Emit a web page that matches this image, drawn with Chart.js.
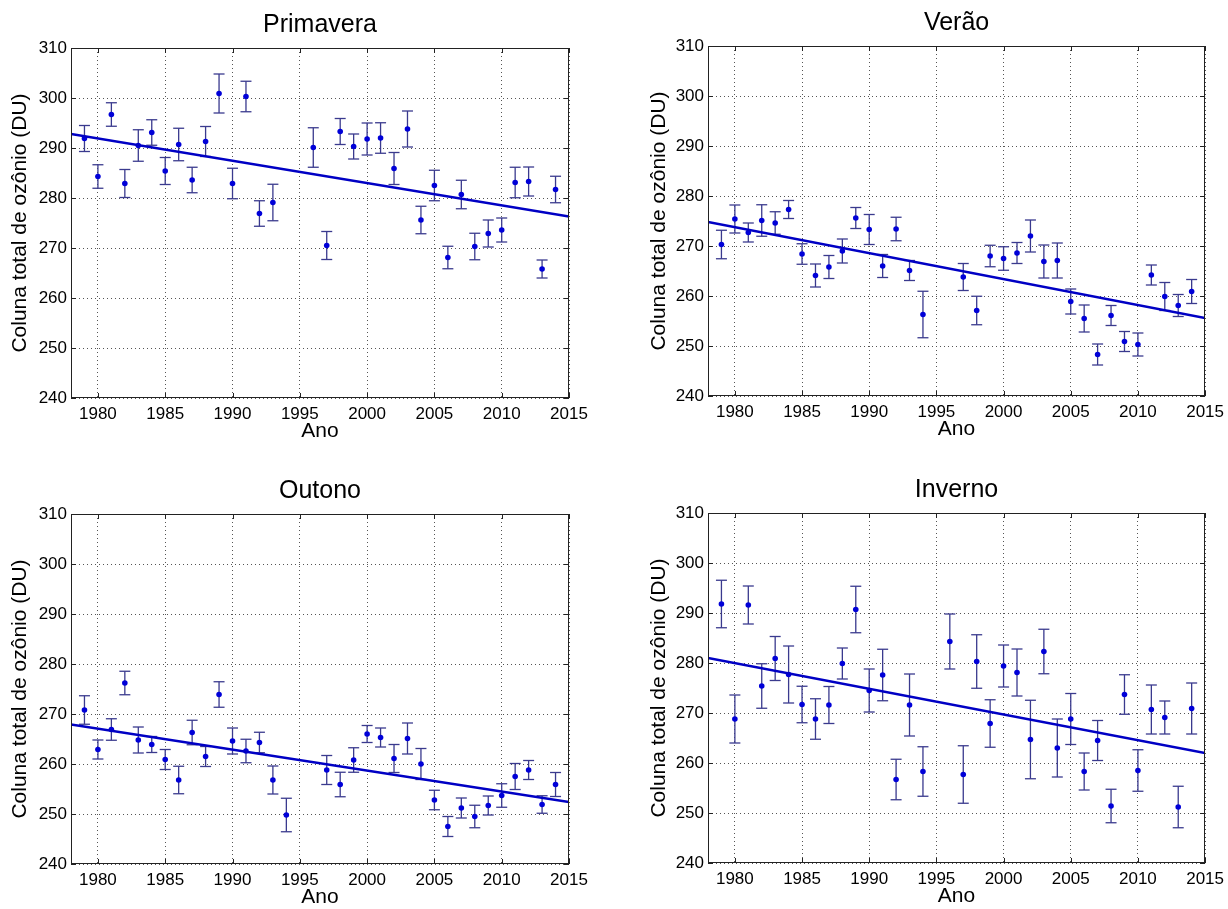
<!DOCTYPE html>
<html lang="pt">
<head>
<meta charset="utf-8">
<title>Coluna total de ozônio por estação</title>
<script src="https://cdn.jsdelivr.net/npm/chart.js@4.4.1/dist/chart.umd.min.js"></script>
<style>
  html, body { margin: 0; padding: 0; background: #fff; }
  #quadro { position: relative; width: 1228px; height: 909px; overflow: hidden; background: #fff; }
  #quadro canvas { position: absolute; }
</style>
</head>
<body>
<div id="quadro">
  <canvas id="gPrimavera" width="614" height="454" style="left:0px;top:0px"></canvas>
  <canvas id="gVerao" width="591" height="454" style="left:639px;top:-2px"></canvas>
  <canvas id="gOutono" width="614" height="454" style="left:0px;top:466px"></canvas>
  <canvas id="gInverno" width="591" height="454" style="left:639px;top:465px"></canvas>
</div>
<script>
// eixos
var xTicks = [1980, 1985, 1990, 1995, 2000, 2005, 2010, 2015];
var yTicks = [240, 250, 260, 270, 280, 290, 300, 310];
var anosTendencia = [1978, 2015];

// Primavera
var anosPrimavera = [1979, 1980, 1981, 1982, 1983, 1984, 1985, 1986, 1987, 1988, 1989, 1990, 1991, 1992, 1993,
                     1996, 1997, 1998, 1999, 2000, 2001, 2002, 2003, 2004, 2005, 2006, 2007, 2008, 2009, 2010, 2011, 2012, 2013, 2014];
var valoresPrimavera = [291.9, 284.3, 296.7, 282.9, 290.5, 293.1, 285.4, 290.7, 283.6, 291.3, 300.9, 282.9, 300.3, 276.9, 279.1,
                        290.1, 270.5, 293.3, 290.3, 291.8, 292.0, 285.9, 293.8, 275.6, 282.5, 268.1, 280.7, 270.3, 272.9, 273.6, 283.1, 283.3, 265.8, 281.7];
var errosPrimavera = [2.6, 2.35, 2.35, 2.8, 3.15, 2.55, 2.7, 3.25, 2.55, 3.0, 3.9, 3.05, 3.05, 2.55, 3.65,
                      3.95, 2.8, 2.6, 2.5, 3.2, 3.05, 3.2, 3.6, 2.75, 3.05, 2.25, 2.85, 2.65, 2.7, 2.4, 3.05, 2.9, 1.8, 2.65];
var tendenciaPrimavera = [292.8, 276.3];

// Verão
var anosVerao = [1979, 1980, 1981, 1982, 1983, 1984, 1985, 1986, 1987, 1988, 1989, 1990, 1991, 1992, 1993, 1994,
                 1997, 1998, 1999, 2000, 2001, 2002, 2003, 2004, 2005, 2006, 2007, 2008, 2009, 2010, 2011, 2012, 2013, 2014];
var valoresVerao = [270.3, 275.4, 272.7, 275.1, 274.6, 277.3, 268.4, 264.1, 265.8, 269.0, 275.6, 273.3, 266.0, 273.4, 265.1, 256.3,
                    263.8, 257.1, 268.0, 267.5, 268.6, 272.0, 266.9, 267.1, 258.9, 255.5, 248.3, 256.1, 250.9, 250.3, 264.2, 259.9, 258.1, 260.9];
var errosVerao = [2.85, 2.8, 1.9, 3.15, 2.25, 1.8, 2.05, 2.3, 2.3, 2.4, 2.1, 3.0, 2.3, 2.35, 2.0, 4.65,
                  2.7, 2.85, 2.15, 2.35, 2.1, 3.2, 3.3, 3.5, 2.5, 2.7, 2.1, 2.0, 2.0, 2.3, 2.0, 2.8, 2.2, 2.4];
var tendenciaVerao = [274.8, 255.6];

// Outono
var anosOutono = [1979, 1980, 1981, 1982, 1983, 1984, 1985, 1986, 1987, 1988, 1989, 1990, 1991, 1992, 1993, 1994,
                  1997, 1998, 1999, 2000, 2001, 2002, 2003, 2004, 2005, 2006, 2007, 2008, 2009, 2010, 2011, 2012, 2013, 2014];
var valoresOutono = [270.8, 262.9, 266.9, 276.2, 264.8, 263.9, 260.9, 256.8, 266.3, 261.5, 273.9, 264.6, 262.6, 264.3, 256.8, 249.8,
                     258.8, 255.9, 260.8, 266.0, 265.3, 261.1, 265.1, 260.0, 252.8, 247.5, 251.2, 249.5, 251.7, 253.7, 257.5, 258.8, 251.9, 255.9];
var errosOutono = [2.85, 1.9, 2.15, 2.35, 2.6, 1.6, 2.0, 2.75, 2.45, 2.0, 2.55, 2.6, 2.35, 2.05, 2.8, 3.35,
                   2.9, 2.45, 2.45, 1.7, 1.9, 2.8, 3.1, 3.1, 1.95, 2.0, 2.0, 2.25, 1.9, 2.35, 2.6, 1.9, 1.75, 2.4];
var tendenciaOutono = [267.9, 252.4];

// Inverno
var anosInverno = [1979, 1980, 1981, 1982, 1983, 1984, 1985, 1986, 1987, 1988, 1989, 1990, 1991, 1992, 1993, 1994,
                   1996, 1997, 1998, 1999, 2000, 2001, 2002, 2003, 2004, 2005, 2006, 2007, 2008, 2009, 2010, 2011, 2012, 2013, 2014];
var valoresInverno = [291.8, 268.8, 291.6, 275.4, 280.9, 277.7, 271.7, 268.8, 271.6, 279.9, 290.7, 274.5, 277.6, 256.7, 271.6, 258.3,
                      284.3, 257.7, 280.3, 267.9, 279.4, 278.1, 264.7, 282.3, 263.0, 268.8, 258.3, 264.5, 251.4, 273.7, 258.5, 270.7, 269.1, 251.2, 270.9];
var errosInverno = [4.75, 4.8, 3.8, 4.45, 4.4, 5.7, 3.65, 4.05, 3.7, 3.1, 4.65, 4.3, 5.15, 4.05, 6.2, 4.95,
                    5.5, 5.75, 5.35, 4.75, 4.2, 4.7, 7.85, 4.45, 5.8, 5.1, 3.7, 4.0, 3.35, 3.95, 4.15, 4.9, 3.3, 4.15, 5.1];
var tendenciaInverno = [281.0, 262.0];

var FONTE = '"Liberation Sans", Arial, Helvetica, sans-serif';
var COR_PONTO = "#0000d8";
var COR_BARRA = "#3a3a8e";
var COR_TEND  = "#0000c4";

Chart.defaults.font.family = FONTE;
Chart.defaults.color = "#000";

// caixa estilo MATLAB com marcas de escala internas
var caixa = {
    id: "caixa",
    afterDatasetsDraw: function (chart) {
        var ctx = chart.ctx, a = chart.chartArea;
        var sx = chart.scales.x, sy = chart.scales.y;
        ctx.save();
        ctx.strokeStyle = "#222";
        ctx.lineWidth = 1;
        ctx.setLineDash([]);
        ctx.beginPath();
        sx.ticks.forEach(function (t) {
            var px = Math.round(sx.getPixelForValue(t.value)) + 0.5;
            ctx.moveTo(px, a.bottom); ctx.lineTo(px, a.bottom - 5);
            ctx.moveTo(px, a.top);    ctx.lineTo(px, a.top + 5);
        });
        sy.ticks.forEach(function (t) {
            var py = Math.round(sy.getPixelForValue(t.value)) + 0.5;
            ctx.moveTo(a.left, py);  ctx.lineTo(a.left + 5, py);
            ctx.moveTo(a.right, py); ctx.lineTo(a.right - 5, py);
        });
        ctx.stroke();
        ctx.strokeRect(Math.round(a.left) + 0.5, Math.round(a.top) + 0.5,
                       Math.round(a.width) - 1, Math.round(a.height) - 1);
        ctx.restore();
    }
};

function painel(canvasId, titulo, anos, valores, erros, tendencia, yLargura, padDir) {
    var pontos = [], barras = [], capas = [];
    anos.forEach(function (ano, k) {
        var lo = valores[k] - erros[k], hi = valores[k] + erros[k];
        pontos.push({ x: ano, y: valores[k] });
        barras.push({ x: ano, y: lo }, { x: ano, y: hi }, { x: ano, y: null });
        capas.push({ x: ano, y: lo }, { x: ano, y: hi });
    });

    return new Chart(document.getElementById(canvasId).getContext("2d"), {
        type: "scatter",
        data: {
            datasets: [
                {
                    type: "line",
                    data: anosTendencia.map(function (a, k) { return { x: a, y: tendencia[k] }; }),
                    borderColor: COR_TEND, borderWidth: 2.6, pointRadius: 0, order: 0
                },
                {
                    type: "scatter", data: pontos,
                    pointRadius: 2.8, backgroundColor: COR_PONTO, borderColor: COR_PONTO, borderWidth: 0, order: 1
                },
                {
                    type: "line", data: barras, spanGaps: false,
                    borderColor: COR_BARRA, borderWidth: 1.3, pointRadius: 0, order: 2
                },
                {
                    type: "scatter", data: capas, pointStyle: "line",
                    pointRadius: 5.5, borderColor: COR_BARRA, borderWidth: 1.3, order: 2
                }
            ]
        },
        options: {
            responsive: false,
            animation: false,
            events: [],
            layout: { padding: { left: 0, right: padDir, top: 0, bottom: 0 } },
            plugins: {
                legend: { display: false },
                tooltip: { enabled: false },
                title: {
                    display: true, text: titulo, fullSize: false, color: "#000",
                    font: { family: FONTE, size: 25, weight: "normal" },
                    padding: { top: 10, bottom: 8 }
                }
            },
            scales: {
                x: {
                    type: "linear", min: 1978, max: 2015,
                    afterBuildTicks: function (s) { s.ticks = xTicks.map(function (v) { return { value: v }; }); },
                    afterFit: function (s) { s.height = 56; },
                    ticks: {
                        autoSkip: false, maxRotation: 0, padding: 6, color: "#000",
                        font: { size: 17 },
                        callback: function (v) { return String(v); }
                    },
                    grid: { drawTicks: false, color: "#555", lineWidth: 1 },
                    border: { display: false, dash: [1, 3] },
                    title: {
                        display: true, text: "Ano", color: "#000",
                        font: { size: 21 }, padding: { top: 0, bottom: 10 }
                    }
                },
                y: {
                    type: "linear", min: 240, max: 310,
                    afterBuildTicks: function (s) { s.ticks = yTicks.map(function (v) { return { value: v }; }); },
                    afterFit: function (s) { s.width = yLargura; },
                    ticks: {
                        autoSkip: false, padding: 4, color: "#000",
                        font: { size: 17 },
                        callback: function (v) { return String(v); }
                    },
                    grid: { drawTicks: false, color: "#555", lineWidth: 1 },
                    border: { display: false, dash: [1, 3] },
                    title: {
                        display: true, text: "Coluna total de ozônio (DU)", color: "#000",
                        font: { size: 21 }, padding: { top: 8, bottom: 0 }
                    }
                }
            }
        },
        plugins: [caixa]
    });
}

painel("gPrimavera", "Primavera", anosPrimavera, valoresPrimavera, errosPrimavera, tendenciaPrimavera, 71, 45);
painel("gVerao",     "Verão",     anosVerao,     valoresVerao,     errosVerao,     tendenciaVerao,     69, 22);
painel("gOutono",    "Outono",    anosOutono,    valoresOutono,    errosOutono,    tendenciaOutono,    71, 45);
painel("gInverno",   "Inverno",   anosInverno,   valoresInverno,   errosInverno,   tendenciaInverno,   69, 22);
</script>
</body>
</html>
